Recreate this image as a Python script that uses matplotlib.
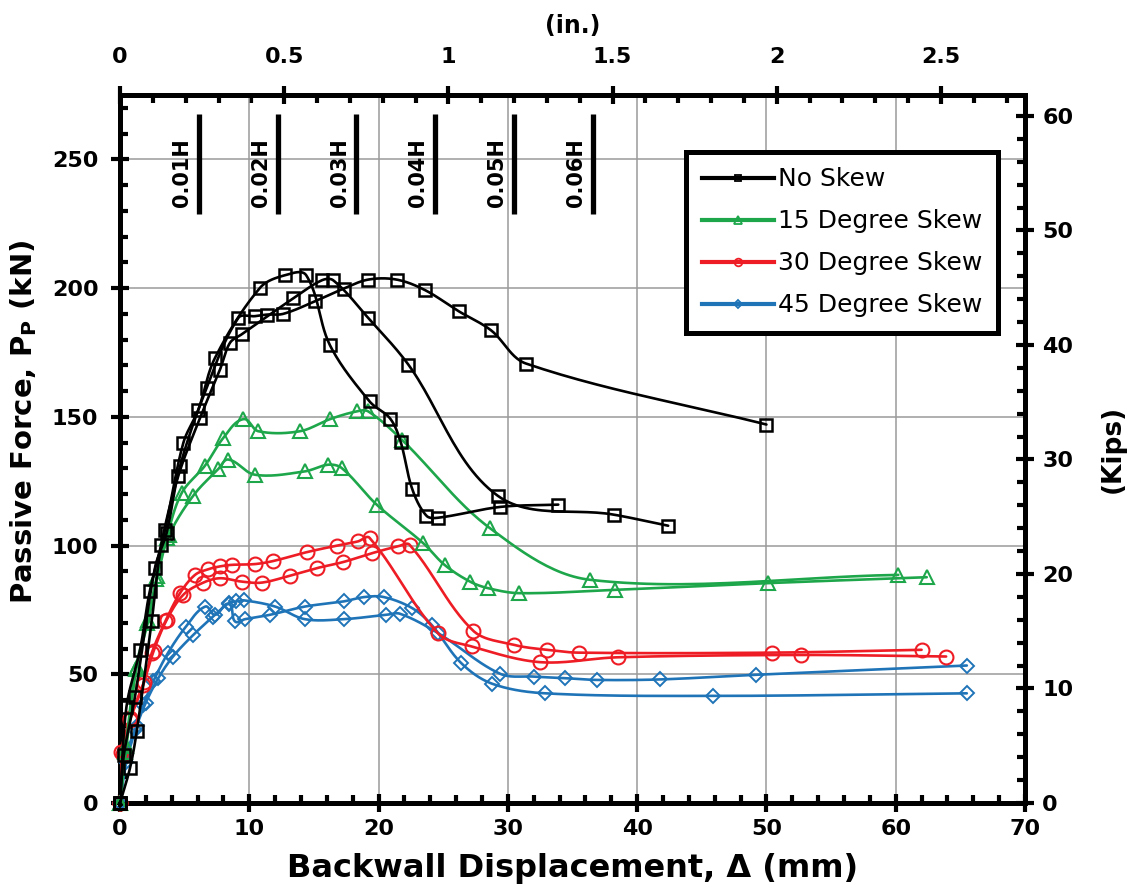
import numpy as np
import matplotlib
matplotlib.use('Agg')
import matplotlib.pyplot as plt
from matplotlib.ticker import MultipleLocator, FixedLocator, FuncFormatter
from matplotlib.lines import Line2D

plt.rcParams['font.family'] = ['DejaVu Sans']
plt.rcParams['font.weight'] = 'bold'
plt.rcParams['axes.labelweight'] = 'bold'

# ---------------- data (mm, kN) ----------------
# No skew (three load tests)
ns_a_x = [0, 0.5, 1.55, 2.3, 3.48, 4.9, 6.06, 7.35, 10.83, 12.76, 14.4, 16.24, 19.3, 20.9, 21.7, 22.6, 23.7, 24.6, 29.4, 33.9]
ns_a_y = [0, 37.4, 59.5, 82.2, 106.1, 139.9, 152.8, 172.9, 200.1, 205.0, 205.0, 177.8, 156.0, 149.3, 140.4, 122.0, 111.6, 110.8, 115.0, 115.9]
ns_b_x = [0, 0.77, 1.3, 2.45, 3.2, 4.5, 6.19, 7.73, 8.5, 9.4, 13.4, 15.6, 16.5, 19.2, 22.3, 29.2, 38.2, 42.4]
ns_b_y = [0, 13.5, 28.0, 70.5, 100.3, 126.9, 149.6, 168.3, 178.7, 182.0, 196.0, 203.0, 203.0, 188.4, 170.3, 119.4, 112.0, 107.7]
ns_c_x = [0, 0.3, 1.16, 2.7, 3.6, 4.64, 6.7, 9.15, 10.44, 11.35, 12.63, 15.1, 17.3, 19.2, 21.4, 23.6, 26.2, 28.7, 31.4, 50.0]
ns_c_y = [0, 18.7, 41.3, 91.2, 104.8, 130.8, 161.2, 188.4, 189.1, 189.7, 190.0, 194.9, 199.8, 203.3, 203.3, 199.2, 191.0, 183.6, 170.7, 147.0]

# 15 degree skew (two tests)
s15_a_x = [0, 0.4, 1.2, 2.1, 2.8, 3.6, 4.77, 6.57, 7.99, 9.54, 10.7, 13.92, 16.24, 18.3, 19.2, 21.8, 28.6, 36.35, 60.2]
s15_a_y = [0, 20, 52, 70, 87, 103, 120.4, 131.0, 141.8, 149.1, 144.4, 144.4, 149.1, 152.1, 152.1, 141.1, 106.8, 86.7, 88.6]
s15_b_x = [0, 0.5, 1.3, 2.2, 2.9, 3.8, 5.67, 7.6, 8.38, 10.44, 14.3, 16.1, 17.15, 19.85, 23.46, 25.1, 27.07, 28.5, 30.9, 38.3, 50.1, 62.4]
s15_b_y = [0, 22, 53, 71, 88, 104, 119.4, 129.7, 133.4, 127.5, 128.8, 131.4, 130.1, 115.9, 100.9, 92.5, 86.0, 83.4, 81.5, 82.8, 85.4, 87.7]

# 30 degree skew (two tests)
s30_a_x = [0, 0.1, 0.77, 1.8, 2.45, 3.5, 4.64, 5.8, 6.83, 7.73, 8.64, 10.44, 11.86, 14.5, 16.8, 18.4, 19.3, 24.6, 27.2, 32.5, 38.5, 52.7, 63.9]
s30_a_y = [0, 20, 32.3, 45.9, 58.2, 70.5, 81.5, 88.6, 90.8, 91.9, 92.5, 92.8, 94.0, 97.5, 100.0, 101.6, 103.0, 65.9, 60.8, 54.7, 56.6, 57.5, 56.9]
s30_b_x = [0, 0.2, 0.8, 1.85, 2.6, 3.6, 4.9, 6.44, 7.73, 9.4, 10.96, 13.15, 15.2, 17.27, 19.47, 21.5, 22.4, 27.3, 30.5, 33.0, 35.5, 50.4, 62.0]
s30_b_y = [0, 19, 33, 47, 59, 71, 80.9, 85.6, 87.3, 86.0, 85.6, 88.3, 91.2, 93.6, 97.0, 99.7, 100.3, 67.0, 61.4, 59.5, 58.4, 58.4, 59.5]

# 45 degree skew (two tests)
s45_a_x = [0, 0.39, 1.16, 1.8, 2.57, 3.7, 5.1, 6.6, 7.35, 8.4, 8.9, 9.67, 11.6, 14.3, 17.3, 18.9, 20.4, 22.6, 24.1, 26.4, 28.8, 32.9, 45.9, 65.5]
s45_a_y = [0, 17.4, 28.4, 38.1, 47.2, 58.2, 68.5, 76.3, 73.1, 77.3, 70.5, 71.4, 73.1, 76.3, 78.3, 80.0, 80.0, 75.7, 69.2, 54.3, 46.3, 42.6, 41.6, 42.6]
s45_b_x = [0, 0.5, 1.3, 2.0, 2.96, 4.1, 5.67, 7.2, 8.4, 9.0, 9.6, 12.0, 14.3, 17.3, 20.6, 21.66, 24.6, 29.4, 32.0, 34.4, 36.9, 41.8, 49.2, 65.5]
s45_b_y = [0, 16, 30, 39, 48.5, 56.9, 65.3, 72.4, 77.6, 78.3, 78.7, 76.3, 71.4, 71.4, 73.1, 73.5, 66.0, 50.2, 49.1, 48.5, 47.8, 48.0, 49.8, 53.4]

series_labels = ['No Skew', '15 Degree Skew', '30 Degree Skew', '45 Degree Skew']
h_fractions = [0.01, 0.02, 0.03, 0.04, 0.05, 0.06]
top_ticks_in = [0, 0.5, 1, 1.5, 2, 2.5]
right_ticks_kip = [0, 10, 20, 30, 40, 50, 60]
wall_height_mm = 609.6
KN_PER_KIP = 4.448
MM_PER_IN = 25.4
XMAX, YMAX = 70, 275

# ---------------- figure ----------------
W, H = 1128, 894
fig = plt.figure(figsize=(W / 100, H / 100), dpi=100)
ax = fig.add_axes([120 / W, 1 - 803 / H, 905 / W, 708 / H])
ax.set_xlim(0, XMAX)
ax.set_ylim(0, YMAX)
sx = 905 / XMAX
sy = 708 / YMAX


def smooth(x, y, n=28):
    """Smoothed polyline (cubic Bezier through the points, computed in screen space)."""
    P = np.column_stack([np.asarray(x, float) * sx, np.asarray(y, float) * sy])
    out = [P[0]]
    t = np.linspace(0, 1, n)[1:, None]

    def tangent(i):
        a = P[max(i - 1, 0)]
        b = P[min(i + 1, len(P) - 1)]
        d = b - a
        nrm = np.hypot(*d)
        return d / nrm if nrm > 0 else d

    for i in range(len(P) - 1):
        p1, p2 = P[i], P[i + 1]
        L = np.hypot(*(p2 - p1))
        c1 = p1 + tangent(i) * L / 3
        c2 = p2 - tangent(i + 1) * L / 3
        seg = (1 - t) ** 3 * p1 + 3 * (1 - t) ** 2 * t * c1 + 3 * (1 - t) * t ** 2 * c2 + t ** 3 * p2
        out.extend(seg)
    out = np.array(out)
    return out[:, 0] / sx, out[:, 1] / sy


black = '#000000'
green = '#1ea64b'
red = '#ee1c24'
blue = '#1f74b8'

styles = {
    'ns': dict(color=black, marker='s', ms=9, mew=1.8),
    's15': dict(color=green, marker='^', ms=9.5, mew=1.5),
    's30': dict(color=red, marker='o', ms=10, mew=1.5),
    's45': dict(color=blue, marker='D', ms=7.3, mew=1.4),
}

groups = [
    ('s45', [(s45_a_x, s45_a_y), (s45_b_x, s45_b_y)]),
    ('s30', [(s30_a_x, s30_a_y), (s30_b_x, s30_b_y)]),
    ('s15', [(s15_a_x, s15_a_y), (s15_b_x, s15_b_y)]),
    ('ns', [(ns_a_x, ns_a_y), (ns_b_x, ns_b_y), (ns_c_x, ns_c_y)]),
]
for z, (key, curves) in enumerate(groups):
    st = styles[key]
    for x, y in curves:
        xs, ys = smooth(x, y)
        ax.plot(xs, ys, color=st['color'], lw=1.9, zorder=3 + z, solid_capstyle='round')
        ax.plot(x, y, ls='none', marker=st['marker'], ms=st['ms'], mew=st['mew'],
                mfc='none', mec=st['color'], zorder=3 + z, clip_on=False)

# grid
ax.grid(True, which='major', color='#9a9a9a', lw=1.1)
ax.set_axisbelow(True)

# H markers
for f in h_fractions:
    xm = f * wall_height_mm
    ax.plot([xm, xm], [228.6, 267.5], color='k', lw=3.8, solid_capstyle='butt', zorder=6)
    ax.text(xm - 1.3, 245, f'{f:.2f}H', rotation=90, ha='center', va='center',
            fontsize=15, fontweight='bold', zorder=6)

# axes formatting
for sp in ax.spines.values():
    sp.set_linewidth(3.6)
ax.xaxis.set_major_locator(MultipleLocator(10))
ax.xaxis.set_minor_locator(MultipleLocator(2))
ax.yaxis.set_major_locator(MultipleLocator(50))
ax.yaxis.set_minor_locator(MultipleLocator(10))
ax.tick_params(which='major', direction='inout', length=13, width=3, labelsize=16)
ax.tick_params(which='minor', direction='in', length=6, width=3)
ax.tick_params(axis='x', which='major', pad=5)
ax.tick_params(axis='y', which='major', pad=9)

ax.set_xlabel('Backwall Displacement, Δ (mm)', fontsize=23, labelpad=10)
ax.set_ylabel('Passive Force, P$_\\mathregular{P}$ (kN)', fontsize=21)
ax.yaxis.set_label_coords(-0.090, 0.538)

fmt = FuncFormatter(lambda v, p: f'{v:g}')

top = ax.secondary_xaxis('top', functions=(lambda v: v / MM_PER_IN, lambda v: v * MM_PER_IN))
top.xaxis.set_major_locator(FixedLocator(top_ticks_in))
top.xaxis.set_minor_locator(FixedLocator([i / 10 for i in range(0, 28)]))
top.xaxis.set_major_formatter(fmt)
top.tick_params(which='major', direction='inout', length=13, width=3, labelsize=16, pad=14)
top.tick_params(which='minor', direction='in', length=6, width=3)
top.spines['top'].set_linewidth(3.6)
top.set_xlabel('(in.)', fontsize=17, labelpad=10)

right = ax.secondary_yaxis('right', functions=(lambda v: v / KN_PER_KIP, lambda v: v * KN_PER_KIP))
right.yaxis.set_major_locator(FixedLocator(right_ticks_kip))
right.yaxis.set_minor_locator(FixedLocator(list(range(0, 62, 2))))
right.yaxis.set_major_formatter(fmt)
right.tick_params(which='major', direction='inout', length=13, width=3, labelsize=16, pad=6)
right.tick_params(which='minor', direction='in', length=6, width=3)
right.spines['right'].set_linewidth(3.6)
right.set_ylabel('(Kips)', fontsize=19, labelpad=19)

# legend
handles = []
for key in ['ns', 's15', 's30', 's45']:
    st = styles[key]
    handles.append(Line2D([], [], color=st['color'], lw=3, marker=st['marker'],
                          ms=st['ms'] * 0.55, mew=1.3, mfc='none', mec=st['color']))
leg = ax.legend(handles, series_labels, loc='upper right', bbox_to_anchor=(0.970, 0.9195),
                borderaxespad=0, fancybox=False, frameon=True, framealpha=1,
                edgecolor='black', prop=dict(family='DejaVu Sans', weight='normal', size=18),
                handlelength=2.9, handletextpad=0.15, labelspacing=0.72, borderpad=0.62)
leg.get_frame().set_linewidth(3.6)
leg.set_zorder(10)

fig.savefig('out.png', dpi=100)
